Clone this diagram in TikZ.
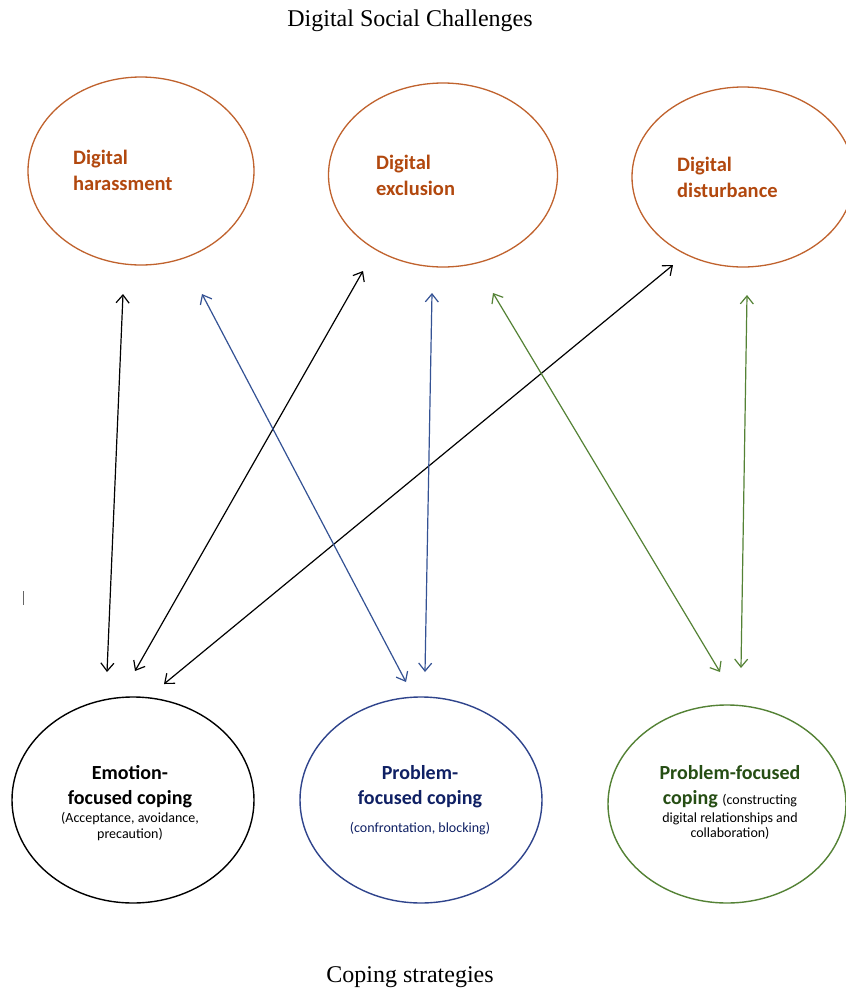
\documentclass[tikz,border=0pt]{standalone}
\usepackage{fontspec}
\setmainfont{Liberation Serif}
\newfontfamily\carlito{Carlito}
\usetikzlibrary{shapes.geometric,arrows.meta}

\definecolor{challine}{RGB}{192,98,45}
\definecolor{chaltext}{RGB}{178,72,14}
\definecolor{probline}{RGB}{47,68,140}
\definecolor{probarrow}{RGB}{52,82,148}
\definecolor{probtext}{RGB}{15,32,100}
\definecolor{relline}{RGB}{84,130,53}
\definecolor{reltext}{RGB}{38,78,20}

\newcommand\bigf{\carlito\bfseries\fontsize{20}{25}\selectfont}
\newcommand\smallf{\carlito\mdseries\fontsize{14}{25}\selectfont}

\begin{document}
\begin{tikzpicture}[x=1pt,y=-1pt,
  challenge/.style={ellipse,draw=challine,line width=1.3pt,inner sep=0pt},
  coping/.style={ellipse,line width=1.4pt,inner sep=0pt},
  chaltxt/.style={align=left,inner sep=0pt,text=chaltext,
    font=\carlito\bfseries\fontsize{20.5}{26}\selectfont},
  copetxt/.style={align=center,inner sep=0pt,font=\carlito\bfseries\fontsize{20}{25}\selectfont},
  title/.style={inner sep=0pt,font=\fontsize{24}{28}\selectfont},
  link/.style={{Straight Barb[length=8pt,width=13pt]}-{Straight Barb[length=8pt,width=13pt]},
    line width=1.2pt}]
\clip (0,0) rectangle (846,988);
\fill[white] (0,0) rectangle (846,988);

% titles
\node[title,anchor=base] (toptitle) at (410,26) {Digital Social Challenges};
\node[title,anchor=base] (bottitle) at (410,982) {Coping strategies};

% digital social challenges
\node[challenge,minimum width=226pt,minimum height=188pt] (harass) at (141,171) {};
\node[challenge,minimum width=229pt,minimum height=184pt] (exclu) at (443,175) {};
\node[challenge,minimum width=222pt,minimum height=180pt] (disturb) at (743,177) {};
% labels are placed by the baseline of their last line
\node[chaltxt,anchor=base west] (harasst) at (73,190) {Digital\\harassment};
\node[chaltxt,anchor=base west] (exclut) at (376,195) {Digital\\exclusion};
\node[chaltxt,anchor=base west] (disturbt) at (677,197) {Digital\\disturbance};

% coping strategies
\node[coping,draw=black,minimum width=242pt,minimum height=206pt] (emo) at (133,800) {};
\node[coping,draw=probline,minimum width=242pt,minimum height=206pt] (prob) at (421,800) {};
\node[coping,draw=relline,minimum width=238pt,minimum height=198pt] (rel) at (727,804) {};

\node[copetxt,anchor=base] (emot) at (130,838)
  {\bigf Emotion-\\ \bigf focused coping\\[-7pt] \smallf (Acceptance, avoidance,\\[-9pt] \smallf precaution)};
\node[copetxt,anchor=base,text=probtext] (probt) at (420,832)
  {\bigf Problem-\\ \bigf focused coping\\[3pt] \smallf (confrontation, blocking)};
\node[copetxt,anchor=base] (relt) at (730,837)
  {\bigf\color{reltext}Problem-focused\\ {\bigf\color{reltext}coping} \smallf (constructing\\[-7pt] \smallf digital relationships and\\[-10pt] \smallf collaboration)};

% stray cursor mark
\coordinate (marka) at (23.5,591);
\coordinate (markb) at (23.5,605);
\draw[gray!80!black,line width=1.2pt] (marka) -- (markb);

% connector end points
\coordinate (h1) at (123,294);  \coordinate (e1) at (107,672);
\coordinate (x1) at (363,271);  \coordinate (e2) at (135,671);
\coordinate (d1) at (673,265);  \coordinate (e3) at (164,684);
\coordinate (h2) at (202,294);  \coordinate (p1) at (406,682);
\coordinate (x2) at (432,293);  \coordinate (p2) at (425,672);
\coordinate (x3) at (493,293);  \coordinate (r1) at (720,672);
\coordinate (d2) at (747,295);  \coordinate (r2) at (741,668);

% connectors
\draw[link,black] (h1) -- (e1);
\draw[link,black] (x1) -- (e2);
\draw[link,black] (d1) -- (e3);
\draw[link,probarrow] (h2) -- (p1);
\draw[link,probarrow] (x2) -- (p2);
\draw[link,relline] (x3) -- (r1);
\draw[link,relline] (d2) -- (r2);
\end{tikzpicture}
\end{document}
